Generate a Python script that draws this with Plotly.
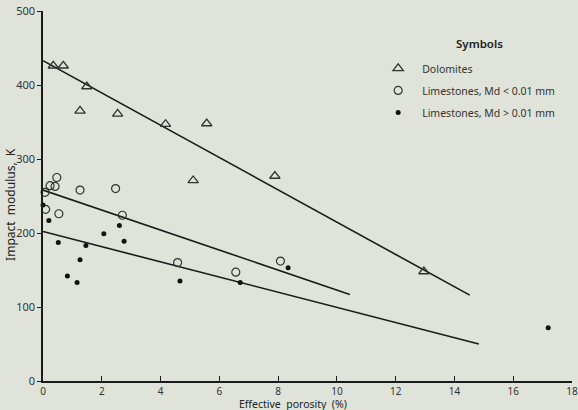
import plotly.graph_objects as go

# Dolomites (open triangles)
dol_x = [0.35, 0.69, 1.49, 1.26, 2.54, 4.17, 5.57, 5.11, 7.89, 12.96]
dol_y = [426, 426, 398, 365, 361, 347, 348, 271, 277, 148]

# Limestones, Md < 0.01 mm (open circles)
lim_s_x = [0.07, 0.24, 0.41, 0.47, 0.09, 0.54, 1.26, 2.47, 2.70, 4.58, 6.56, 8.08]
lim_s_y = [255, 264, 263, 275, 232, 226, 258, 260, 224, 160, 147, 162]

# Limestones, Md > 0.01 mm (filled dots)
lim_l_x = [0.0, 0.20, 0.52, 0.83, 1.16, 1.26, 1.46, 2.07, 2.60, 2.76, 4.66, 6.71, 8.34, 17.19]
lim_l_y = [238, 217, 187, 142, 133, 164, 183, 199, 210, 189, 135, 133, 153, 72]

# Fitted lines (end points)
fit_dol_x = [0.0, 14.52]
fit_dol_y = [433, 116]
fit_ls_x = [0.0, 10.44]
fit_ls_y = [258, 117]
fit_ll_x = [0.0, 14.83]
fit_ll_y = [202, 50]

x_ticks = [0, 2, 4, 6, 8, 10, 12, 14, 16, 18]
y_ticks = [0, 100, 200, 300, 400, 500]

bg = "#dfe3d9"
ink = "#1a1a1a"
FONT = "Noto Sans, DejaVu Sans, sans-serif"

fig = go.Figure()
for lx, ly in [(fit_dol_x, fit_dol_y), (fit_ls_x, fit_ls_y), (fit_ll_x, fit_ll_y)]:
    fig.add_trace(go.Scatter(x=lx, y=ly, mode="lines", line=dict(color=ink, width=1.6),
                             showlegend=False, hoverinfo="skip"))

fig.add_trace(go.Scatter(x=dol_x, y=dol_y, mode="markers", name="Dolomites",
                         legendgroup="a",
                         marker=dict(symbol="triangle-up-open", size=9, color="#333",
                                     line=dict(width=1.3)), cliponaxis=False))
fig.add_trace(go.Scatter(x=lim_s_x, y=lim_s_y, mode="markers", name="Limestones, Md < 0.01 mm",
                         legendgroup="b",
                         marker=dict(symbol="circle-open", size=8, color="#333",
                                     line=dict(width=1.2)), cliponaxis=False))
fig.add_trace(go.Scatter(x=lim_l_x, y=lim_l_y, mode="markers", name="Limestones, Md > 0.01 mm",
                         legendgroup="c",
                         marker=dict(symbol="circle", size=5, color="#111"), cliponaxis=False))

fig.update_layout(
    width=578, height=410,
    margin=dict(l=43, r=6, t=11, b=29, autoexpand=False),
    paper_bgcolor=bg, plot_bgcolor=bg,
    font=dict(family=FONT, size=10, color="#333"),
    legend=dict(x=0.626, y=0.884, xanchor="left", yanchor="top",
                bgcolor="rgba(0,0,0,0)", tracegroupgap=3,
                font=dict(size=10.5, color="#333"), itemwidth=38),
    xaxis=dict(range=[0, 18], tickvals=x_ticks, ticktext=[str(v) for v in x_ticks],
               showgrid=False, zeroline=False, showline=True, linecolor=ink, linewidth=1.5,
               ticks="inside", ticklen=5, tickcolor=ink, tickfont=dict(size=10),
               ticklabeloverflow="allow", automargin=False),
    yaxis=dict(range=[0, 500], tickvals=y_ticks, ticktext=[str(v) for v in y_ticks],
               showgrid=False, zeroline=False, showline=True, linecolor=ink, linewidth=1.5,
               ticks="outside", ticklen=4, tickcolor=ink, tickfont=dict(size=11),
               automargin=False),
    annotations=[
        dict(text="Symbols", x=0.826, y=0.911, xref="paper", yref="paper",
             xanchor="center", yanchor="middle", showarrow=False,
             font=dict(size=11.5, color="#222", weight=600)),
        dict(text="Effective  porosity  (%)", x=0.4726, y=0, xref="paper", yref="paper",
             xanchor="center", yanchor="middle", yshift=-22.5, showarrow=False,
             font=dict(size=10.5, color="#222")),
        dict(text="Impact  modulus,  K", x=0, y=0.476, xref="paper", yref="paper",
             xanchor="center", yanchor="middle",
             xshift=-32, textangle=-90, showarrow=False, font=dict(size=12, color="#222")),
    ],
)

fig.write_html("out.html", config={"displayModeBar": False},
               post_script="document.body.style.margin='0';document.body.style.background='%s';" % bg)
